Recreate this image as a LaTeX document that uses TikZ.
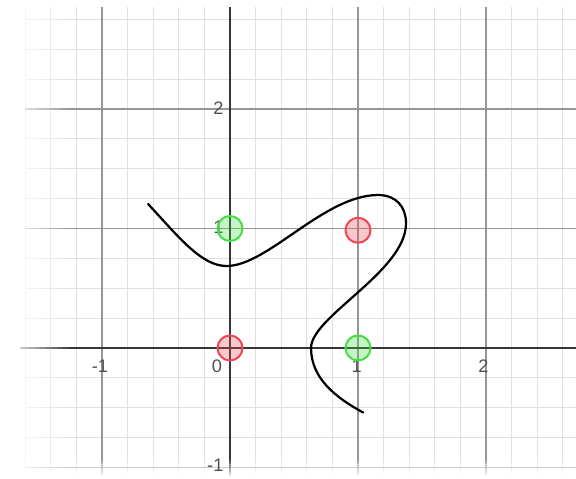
\documentclass[tikz,border=0pt]{standalone}
\usepackage{fontspec}
\setmainfont{Liberation Sans}
\definecolor{gridminor}{RGB}{224,224,224}
\definecolor{gridmajor}{RGB}{150,150,150}
\definecolor{axisgray}{RGB}{55,55,55}
\definecolor{labelgray}{RGB}{80,80,80}
\definecolor{ptred}{RGB}{238,70,84}
\definecolor{ptgreen}{RGB}{70,220,70}
\tikzset{
	minorline/.style={gridminor, line width=0.8pt},
	majorline/.style={gridmajor, line width=0.9pt},
	axisline/.style={axisgray, line width=1.6pt},
	ticklabel/.style={labelgray, font=\fontsize{15.5}{16}\selectfont, inner sep=0pt},
	redpt/.style={circle, draw=ptred, fill=ptred, fill opacity=0.3, draw opacity=1, line width=1.7pt, minimum size=0.75cm, inner sep=0pt},
	greenpt/.style={circle, draw=ptgreen, fill=ptgreen, fill opacity=0.3, draw opacity=1, line width=1.7pt, minimum size=0.75cm, inner sep=0pt}
}

\begin{document}
\begin{tikzpicture}[x=3.84cm, y=3.585cm]
				\useasboundingbox (-1.797,-1.096) rectangle (2.703,2.912);
				\foreach \i in {-8,...,13}
					\draw[minorline] (\i/5,-1.08) -- (\i/5,2.854);
				\foreach \j in {-4,...,11}
					\draw[minorline] (-1.6,\j/4) -- (2.703,\j/4);
				\foreach \i in {-1,1,2}
					\draw[majorline] (\i,-1.08) -- (\i,2.854);
				\foreach \j in {-1,1,2}
					\draw[majorline] (-1.6,\j) -- (2.703,\j);
				\draw[axisline] (-1.64,0) -- (2.703,0);
				\draw[axisline] (0,-1.08) -- (0,2.854);
				\foreach \k [evaluate=\k as \op using 1-\k/12, evaluate=\k as \xa using -1.797+\k*0.045] in {0,...,11}
					\fill[white, opacity=\op] (\xa,-1.096) rectangle (\xa+0.046,2.912);
				\foreach \k [evaluate=\k as \op using 1-\k/8, evaluate=\k as \ya using -1.096+\k*0.02] in {0,...,7}
					\fill[white, opacity=\op] (-1.797,\ya) rectangle (2.703,\ya+0.021);
				\node[ticklabel] (xm1) at (-1.016,-0.151) {-1};
				\node[ticklabel] (x0) at (-0.102,-0.151) {0};
				\node[ticklabel] (x1) at (0.99,-0.151) {1};
				\node[ticklabel] (x2) at (1.98,-0.151) {2};
				\node[ticklabel, anchor=east] (y2) at (-0.05,2.01) {2};
				\node[ticklabel, anchor=east] (y1) at (-0.05,1.01) {1};
				\node[ticklabel, anchor=east] (ym1) at (-0.05,-0.985) {-1};
				\draw[black, line width=1.9pt, line cap=round] (-0.64,1.205) .. controls (-0.39,0.915) and (-0.22,0.686) .. (-0.026,0.686)
					.. controls (0.294,0.686) and (0.736,1.28) .. (1.156,1.28)
					.. controls (1.3,1.28) and (1.375,1.18) .. (1.375,1.043)
					.. controls (1.375,0.643) and (0.633,0.262) .. (0.633,0)
					.. controls (0.633,-0.25) and (0.82,-0.412) .. (1.04,-0.54);
				\node[redpt] (p00) at (0,0) {};
				\node[redpt] (p11) at (1,0.985) {};
				\node[greenpt] (p01) at (0,1) {};
				\node[greenpt] (p10) at (1,0) {};
			\end{tikzpicture}
\end{document}
